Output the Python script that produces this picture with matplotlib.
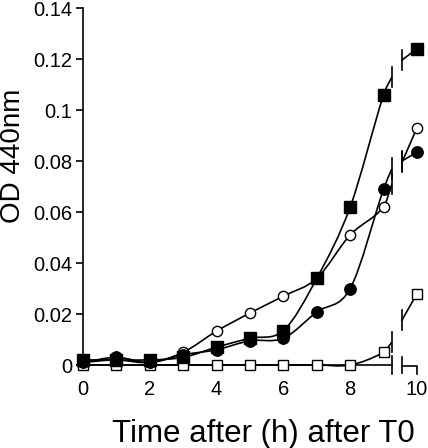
import numpy as np
import matplotlib
matplotlib.use("Agg")
import matplotlib.pyplot as plt
from matplotlib.path import Path
from matplotlib.patches import PathPatch

plt.rcParams['font.family'] = ['Liberation Sans', 'DejaVu Sans']

# ---- data ----
time_h = [0, 1, 2, 3, 4, 5, 6, 7, 8, 9]
filled_sq = [0.002, 0.002, 0.002, 0.003, 0.007, 0.0105, 0.0135, 0.034, 0.062, 0.106]
open_circ = [0.001, 0.002, 0.001, 0.005, 0.0133, 0.0204, 0.027, 0.034, 0.051, 0.062]
filled_circ = [0.001, 0.003, 0.001, 0.004, 0.006, 0.0095, 0.0105, 0.0208, 0.030, 0.069]
open_sq = [0, 0, 0, 0, 0, 0, 0, 0, 0, 0.005]

# points after the axis break (plotted at x = 10)
end_x = 10
end_vals = {'filled_sq': 0.124, 'open_circ': 0.093, 'filled_circ': 0.0835, 'open_sq': 0.028}
# line values at the left / right side of the break
break_left_x, break_right_x = 9.25, 9.55
break_left = {'filled_sq': 0.113, 'open_circ': 0.071, 'filled_circ': 0.077, 'open_sq': 0.009}
break_right = {'filled_sq': 0.1196, 'open_circ': 0.0795, 'filled_circ': 0.080, 'open_sq': 0.0176}

y_ticks = [0, 0.02, 0.04, 0.06, 0.08, 0.1, 0.12, 0.14]
y_ticklabels = ['0', '0.02', '0.04', '0.06', '0.08', '0.1', '0.12', '0.14']
x_ticks = [0, 2, 4, 6, 8, 10]
x_ticklabels = ['0', '2', '4', '6', '8', '10']


def smooth_path(xs, ys):
    xs = np.asarray(xs, float)
    ys = np.asarray(ys, float)
    n = len(xs)
    m = np.zeros(n)
    for i in range(n):
        if i == 0:
            m[i] = (ys[1] - ys[0]) / (xs[1] - xs[0])
        elif i == n - 1:
            m[i] = (ys[-1] - ys[-2]) / (xs[-1] - xs[-2])
        else:
            m[i] = (ys[i + 1] - ys[i - 1]) / (xs[i + 1] - xs[i - 1])
    verts = [(xs[0], ys[0])]
    codes = [Path.MOVETO]
    for i in range(n - 1):
        h = xs[i + 1] - xs[i]
        verts += [(xs[i] + h / 3, ys[i] + m[i] * h / 3),
                  (xs[i + 1] - h / 3, ys[i + 1] - m[i + 1] * h / 3),
                  (xs[i + 1], ys[i + 1])]
        codes += [Path.CURVE4] * 3
    return Path(verts, codes)


W, H = 428, 448
fig = plt.figure(figsize=(W / 100, H / 100), dpi=100)
ax = fig.add_axes([83 / W, (H - 365) / H, 334 / W, 357 / H])
ax.set_xlim(0, 10)
ax.set_ylim(0, 0.14)

lw = 1.2
series = [
    ('open_sq', open_sq, dict(marker='s', markersize=7, markerfacecolor='white', markeredgecolor='black', markeredgewidth=1.0)),
    ('open_circ', open_circ, dict(marker='o', markersize=7.4, markerfacecolor='white', markeredgecolor='black', markeredgewidth=1.0)),
    ('filled_circ', filled_circ, dict(marker='o', markersize=8.2, markerfacecolor='black', markeredgecolor='black')),
    ('filled_sq', filled_sq, dict(marker='s', markersize=8.4, markerfacecolor='black', markeredgecolor='black')),
]
mh = 0.004
for z, (key, vals, mk) in enumerate(series):
    xs = list(time_h) + [break_left_x]
    ys = list(vals) + [break_left[key]]
    patch = PathPatch(smooth_path(xs, ys), facecolor='none', edgecolor='black', lw=lw,
                      transform=ax.transData, clip_on=False, zorder=2 + z)
    ax.add_patch(patch)
    # break marks
    ax.plot([break_left_x, break_left_x], [break_left[key] - mh, break_left[key] + mh],
            color='black', lw=lw, clip_on=False, zorder=2 + z)
    ax.plot([break_right_x, break_right_x], [break_right[key] - mh, break_right[key] + mh],
            color='black', lw=lw, clip_on=False, zorder=2 + z)
    ax.plot([break_right_x, end_x], [break_right[key], end_vals[key]],
            color='black', lw=lw, clip_on=False, zorder=2 + z)
    ax.plot(list(time_h) + [end_x], list(vals) + [end_vals[key]], linestyle='none',
            clip_on=False, zorder=3 + z, **mk)

# x axis with break
ax.spines['bottom'].set_visible(False)
ax.spines['top'].set_visible(False)
ax.spines['right'].set_visible(False)
ax.spines['left'].set_linewidth(1.2)
ax.plot([0, break_left_x], [0, 0], color='black', lw=1.2, clip_on=False, zorder=1)
ax.plot([break_left_x, break_left_x], [-0.0035, 0.0035], color='black', lw=1.2, clip_on=False)
ax.plot([break_right_x, break_right_x], [-0.0032, 0.003], color='black', lw=1.2, clip_on=False)
ax.plot([break_right_x, end_x, end_x], [-0.0005, -0.0005, -0.0035], color='black', lw=1.2, clip_on=False)

ax.set_yticks(y_ticks)
ax.set_yticklabels(y_ticklabels)
ax.set_xticks(x_ticks)
ax.set_xticklabels(x_ticklabels)
ax.tick_params(axis='y', direction='out', length=5, width=1.2, labelsize=14.5, pad=3)
ax.tick_params(axis='x', length=0, labelsize=14.5, pad=11)

fig.text(263.5 / W, 6 / H, 'Time after (h) after T0', fontsize=22.5, ha='center', va='baseline')
fig.text(13 / W, (H - 155.5) / H, 'OD 440nm', fontsize=20, rotation=90, ha='center', va='center')

fig.savefig('out.png', dpi=100)
